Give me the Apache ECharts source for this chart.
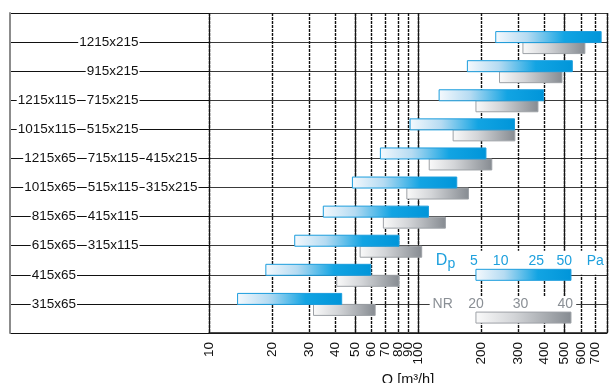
<!DOCTYPE html>
<html>
<head>
<meta charset="utf-8">
<script src="https://cdn.jsdelivr.net/npm/echarts@6/dist/echarts.min.js"></script>
<style>
  html, body { margin: 0; padding: 0; background: #fff; }
  #chart { width: 615px; height: 383px; }
</style>
</head>
<body>
<div id="chart"></div>
<script>
// duct sizes, top row first; "-" separates sizes that share a row
const rowLabels = [
  "1215x215",
  "915x215",
  "1215x115-715x215",
  "1015x115-515x215",
  "1215x65-715x115-415x215",
  "1015x65-515x115-315x215",
  "815x65-415x115",
  "615x65-315x115",
  "415x65",
  "315x65",
];
// text column of each row's first size (0 = leftmost)
const rowFirstCol = [1, 1, 0, 0, 0, 0, 0, 0, 0, 0];

// airflow Q [m3/h]: blue = pressure drop range, grey = noise range
const blueFrom = [235, 172, 126, 91.5, 66, 48.5, 35.2, 25.7, 18.7, 13.7];
const blueTo   = [750, 546, 398, 289, 211, 153, 112, 81, 59.4, 43.1];
const greyFrom = [317, 245, 189, 147, 113, 88.3, 68.2, 52.8, 40.8, 31.6];
const greyTo   = [627, 487, 374, 290, 225, 174, 135, 104, 81, 62.3];

const xTicks = [10, 20, 30, 40, 50, 60, 70, 80, 90, 100, 200, 300, 400, 500, 600, 700, 800];
const xSolid = [10, 50, 100, 500, 800];

// key inside the plot: labels and the Q value each one sits over
const dpNameAt = 138;
const dpLabels = ["5", "10", "25", "50", "Pa"];
const dpAt = [185, 248, 367, 500, 703];
const nrLabels = ["NR", "20", "30", "40"];
const nrAt = [131, 189, 309, 505];
const keyFrom = 189;
const keyTo = 538;

const FONT = '"Liberation Sans", Arial, Helvetica, sans-serif';
const BLUE_TXT = "#1ea0dd";
const GREY_TXT = "#8a8f95";

const lg = Math.log10;

function blueFill() {
  return new echarts.graphic.LinearGradient(0, 0, 1, 0, [
    { offset: 0, color: "#f5f9fd" },
    { offset: 0.3, color: "#b5dbf2" },
    { offset: 0.65, color: "#12a4e3" },
    { offset: 1, color: "#0095d9" },
  ]);
}
function greyFill() {
  return new echarts.graphic.LinearGradient(0, 0, 1, 0, [
    { offset: 0, color: "#fafafa" },
    { offset: 0.4, color: "#d3d5d8" },
    { offset: 1, color: "#868b91" },
  ]);
}

// bar drawn relative to its row line
function barItem(dy, fillFn, stroke) {
  return function (params, api) {
    const a = api.coord([api.value(0), api.value(2)]);
    const b = api.coord([api.value(1), api.value(2)]);
    return {
      type: "rect",
      shape: { x: a[0], y: a[1] + dy, width: b[0] - a[0], height: 11 },
      style: { fill: fillFn(), stroke: stroke, lineWidth: 1 },
    };
  };
}

const colRight = [67, 129.5, 188.5];

function rowLabelItem(params, api) {
  const i = params.dataIndex;
  const parts = rowLabels[i].split("-");
  const kids = parts.map(function (t, k) {
    const p = api.coord([colRight[rowFirstCol[i] + k], api.value(1)]);
    return {
      type: "text",
      style: {
        text: t, x: p[0], y: p[1], align: "right", verticalAlign: "middle",
        font: "13.5px " + FONT, fill: "#111",
        backgroundColor: "#fff", padding: [1, 1],
      },
    };
  });
  return { type: "group", children: kids };
}

function keyItem(params, api) {
  const at = function (q, v) { return api.coord([lg(q), v]); };
  const right = at(800, 0)[0];
  const dpY = at(100, 2.48)[1];
  const nrY = at(100, 1)[1];
  const blueY = at(100, 2)[1];
  const greyY = at(100, 0.53)[1];
  const x0 = at(keyFrom, 0)[0];
  const x1 = at(keyTo, 0)[0];
  const dpLeft = at(dpNameAt, 0)[0] - 10;
  const nrLeft = at(nrAt[0], 0)[0] - 11;
  const nrRight = at(nrAt[nrAt.length - 1], 0)[0] + 9;
  const kids = [
    { type: "rect", shape: { x: dpLeft - 3, y: dpY - 10, width: right - dpLeft + 2, height: blueY - dpY + 10 }, style: { fill: "#fff" } },
    { type: "rect", shape: { x: nrLeft - 2, y: nrY - 8, width: nrRight - nrLeft + 4, height: 16 }, style: { fill: "#fff" } },
    { type: "text", style: { text: "D", x: at(dpNameAt, 0)[0], y: dpY, align: "right", verticalAlign: "middle", font: "16px " + FONT, fill: BLUE_TXT } },
    { type: "text", style: { text: "p", x: at(dpNameAt, 0)[0], y: dpY + 3, align: "left", verticalAlign: "middle", font: "14px " + FONT, fill: BLUE_TXT } },
  ];
  dpLabels.forEach(function (t, k) {
    kids.push({ type: "text", style: { text: t, x: at(dpAt[k], 0)[0], y: dpY, align: "center", verticalAlign: "middle", font: "14px " + FONT, fill: BLUE_TXT } });
  });
  nrLabels.forEach(function (t, k) {
    kids.push({ type: "text", style: { text: t, x: at(nrAt[k], 0)[0], y: nrY, align: "center", verticalAlign: "middle", font: "14px " + FONT, fill: GREY_TXT } });
  });
  kids.push({ type: "rect", shape: { x: x0, y: blueY - 5.5, width: x1 - x0, height: 11 }, style: { fill: blueFill(), stroke: "#1b9ddd", lineWidth: 1 } });
  kids.push({ type: "rect", shape: { x: x0, y: greyY - 5.5, width: x1 - x0, height: 11 }, style: { fill: greyFill(), stroke: "#9da1a6", lineWidth: 1 } });
  return { type: "group", children: kids };
}

const rowVal = rowLabels.map(function (_, i) { return 10 - i; });

const chart = echarts.init(document.getElementById("chart"), null, { renderer: "canvas" });

chart.setOption({
  animation: false,
  backgroundColor: "#fff",
  textStyle: { fontFamily: FONT },
  grid: [
    { left: 209, right: 8, top: 13, bottom: 50, outerBoundsMode: "none" },
    { left: 10, width: 199, top: 13, bottom: 50, outerBoundsMode: "none" },
  ],
  xAxis: [
    {
      type: "value", gridIndex: 0, min: 1, max: lg(800),
      name: "Q [m³/h]", nameLocation: "middle", nameGap: 36,
      nameTextStyle: { fontSize: 14.5, color: "#111", fontFamily: FONT },
      axisLine: { show: true, lineStyle: { color: "#111", width: 1.5 } },
      axisTick: { show: false, customValues: xTicks.map(lg) },
      axisLabel: {
        customValues: xTicks.map(lg), rotate: 90, margin: 9,
        fontSize: 13.5, color: "#111", fontFamily: FONT,
        formatter: function (v) { return String(Math.round(Math.pow(10, v))); },
      },
      splitLine: { show: true, lineStyle: { color: "#111", width: 1.4, type: [3, 1] } },
    },
    {
      type: "value", gridIndex: 0, position: "top", min: 1, max: lg(800),
      axisLine: { show: false },
      axisTick: { show: false, customValues: xSolid.map(lg) },
      axisLabel: { show: false },
      splitLine: { show: true, lineStyle: { color: "#151515", width: 1.2 } },
    },
    {
      type: "value", gridIndex: 1, min: 0, max: 199,
      axisLine: { show: false }, axisTick: { show: false },
      axisLabel: { show: false }, splitLine: { show: false },
    },
  ],
  yAxis: [
    {
      type: "value", gridIndex: 0, min: 0, max: 11, interval: 1,
      axisLine: { show: false }, axisTick: { show: false }, axisLabel: { show: false },
      splitLine: { show: true, lineStyle: { color: "#3a3a3a", width: 1 } },
    },
    {
      type: "value", gridIndex: 1, min: 0, max: 11, interval: 1,
      axisLine: { show: true, lineStyle: { color: "#8c8c8c", width: 2 } },
      axisTick: { show: false }, axisLabel: { show: false },
      splitLine: { show: true, lineStyle: { color: "#111", width: 1 } },
    },
  ],
  series: [
    {
      type: "custom", xAxisIndex: 0, yAxisIndex: 0, z: 3,
      encode: { x: [0, 1], y: 2 },
      data: blueFrom.map(function (v, i) { return [lg(v), lg(blueTo[i]), rowVal[i]]; }),
      renderItem: barItem(-10.5, blueFill, "#1b9ddd"),
    },
    {
      type: "custom", xAxisIndex: 0, yAxisIndex: 0, z: 2,
      encode: { x: [0, 1], y: 2 },
      data: greyFrom.map(function (v, i) { return [lg(v), lg(greyTo[i]), rowVal[i]]; }),
      renderItem: barItem(0.5, greyFill, "#9da1a6"),
    },
    {
      type: "custom", xAxisIndex: 0, yAxisIndex: 0, z: 4,
      encode: { x: 0, y: 1 },
      data: [[2, 1]],
      renderItem: keyItem,
    },
    {
      type: "custom", xAxisIndex: 2, yAxisIndex: 1, z: 4,
      encode: { x: 0, y: 1 },
      data: rowVal.map(function (v) { return [0, v]; }),
      renderItem: rowLabelItem,
    },
  ],
});
</script>
</body>
</html>
